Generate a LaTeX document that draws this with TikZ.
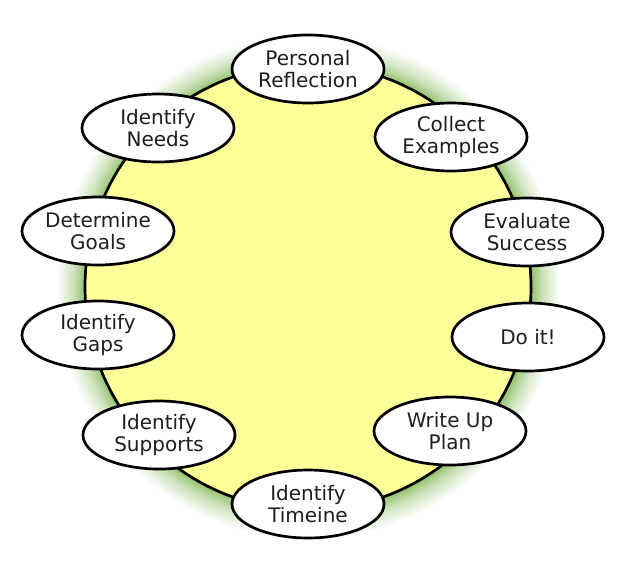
\documentclass[tikz,border=0pt]{standalone}
\usepackage{fontspec}
\setmainfont{DejaVu Sans}
\definecolor{ringyellow}{RGB}{255,255,153}
\definecolor{glowgreen}{RGB}{140,190,100}
\definecolor{txt}{RGB}{30,30,30}
\pgfdeclareradialshading{glow}{\pgfpoint{0bp}{0bp}}{%
  color(0bp)=(glowgreen); color(22bp)=(glowgreen);
  color(23.3bp)=(glowgreen!45!white); color(25bp)=(white); color(50bp)=(white)}
\tikzset{
  stepnode/.style={ellipse, draw=black, line width=2.7pt, fill=white,
    minimum width=152pt, minimum height=68pt, inner sep=0pt,
    align=center, font=\fontsize{20}{21.5}\selectfont, text=txt},
}
\usetikzlibrary{shapes.geometric}
\begin{document}
\begin{tikzpicture}[x=1pt,y=-1pt]
\useasboundingbox (0,0) rectangle (639,563);
\coordinate (c) at (308,287);
\shade[shading=glow] (c) circle[radius=252];
\fill[ringyellow] (c) circle[radius=223];
\draw[line width=2.7pt] (c) circle[radius=223];
\node[stepnode] (pr) at (308,69) {Personal\\Reflection};
\node[stepnode] (ce) at (451,137) {Collect\\Examples};
\node[stepnode] (es) at (527,232) {Evaluate\\Success};
\node[stepnode] (di) at (528,337) {Do it!};
\node[stepnode] (wu) at (450,431) {Write Up\\Plan};
\node[stepnode] (it) at (308,504) {Identify\\Timeine};
\node[stepnode] (is) at (159,435) {Identify\\Supports};
\node[stepnode] (ig) at (98,335) {Identify\\Gaps};
\node[stepnode] (dg) at (98,231) {Determine\\Goals};
\node[stepnode] (in) at (158,128) {Identify\\Needs};
\end{tikzpicture}
\end{document}
